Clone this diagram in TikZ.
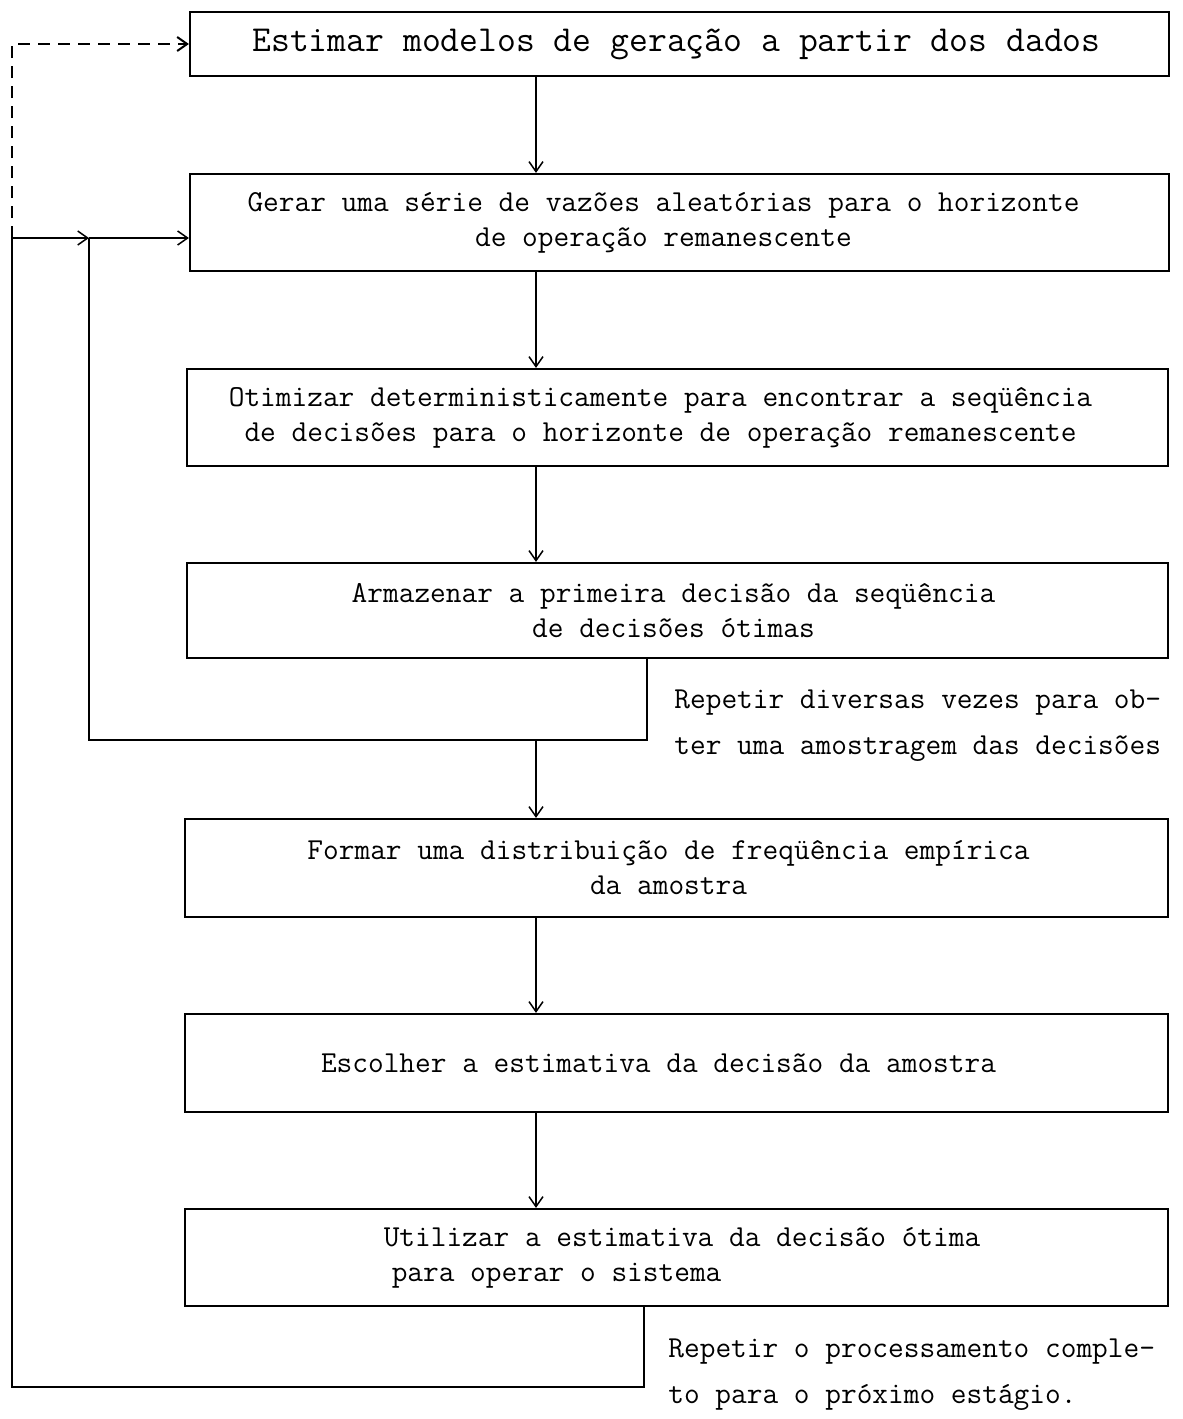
\documentclass[tikz,border=0pt]{standalone}
\usepackage{fontspec}
\usetikzlibrary{arrows.meta}
\begin{document}
\begin{tikzpicture}[x=0.5pt,y=-0.5pt,
  box/.style={draw, line width=1.1pt, rectangle, inner sep=0pt},
  txt/.style={font=\ttfamily\fontsize{15.24pt}{17.5pt}\selectfont, align=center, inner sep=0pt},
  bigtxt/.style={font=\ttfamily\fontsize{18.3pt}{21pt}\selectfont, align=center, inner sep=0pt},
  note/.style={font=\ttfamily\fontsize{15.24pt}{23pt}\selectfont, align=left, inner sep=0pt, anchor=north west},
  flow/.style={line width=0.75pt},
  arr/.style={flow, -{Straight Barb[length=5pt,width=7pt]}},
  dsh/.style={arr, line width=1pt, dash pattern=on 6pt off 4pt}]
\useasboundingbox (0,0) rectangle (1183,1419);

% process boxes
\node[box, minimum width=489.5pt, minimum height=32pt]   (b1) at (679.5,44)   {};
\node[box, minimum width=489.5pt, minimum height=48.5pt] (b2) at (679.5,222.5) {};
\node[box, minimum width=490.5pt, minimum height=48.5pt] (b3) at (677.5,417.5) {};
\node[box, minimum width=490.5pt, minimum height=47.5pt] (b4) at (677.5,610.5) {};
\node[box, minimum width=491.5pt, minimum height=49pt]   (b5) at (676.5,868)   {};
\node[box, minimum width=491.5pt, minimum height=49pt]   (b6) at (676.5,1063)  {};
\node[box, minimum width=491.5pt, minimum height=48.5pt] (b7) at (676.5,1257.5) {};

% box texts
\node[bigtxt, xshift=-1.5pt] (t1) at (b1.center) {Estimar modelos de geração a partir dos dados};
\node[txt, xshift=-8pt] (t2) at (b2.center) {Gerar uma série de vazões aleatórias para o horizonte\\de operação remanescente};
\node[txt, xshift=-8.5pt] (t3) at (b3.center) {Otimizar deterministicamente para encontrar a seqüência\\de decisões para o horizonte de operação remanescente};
\node[txt, xshift=-2pt] (t4) at (b4.center) {Armazenar a primeira decisão da seqüência\\de decisões ótimas};
\node[txt, xshift=-4pt] (t5) at (b5.center) {Formar uma distribuição de freqüência empírica\\da amostra};
\node[txt, xshift=-9pt] (t6) at (b6.center) {Escolher a estimativa da decisão da amostra};
\node[txt, align=left, xshift=2.75pt] (t7) at (b7.center) {Utilizar a estimativa da decisão ótima\\\hspace*{4pt}para operar o sistema};

% loop remarks
\node[note] (n1) at (674,689) {Repetir diversas vezes para ob-\\ter uma amostragem das decisões};
\node[note] (n2) at (668,1338) {Repetir o processamento comple-\\to para o próximo estágio.};

% routing points
\coordinate (cx) at (536,0);
\coordinate (r1) at (647,740);
\coordinate (r2) at (644,1387);
\coordinate (jo) at (12,238);
\coordinate (ji) at (89,238);

% main flow
\draw[arr] (b1.south -| cx) -- (b2.north -| cx);
\draw[arr] (b2.south -| cx) -- (b3.north -| cx);
\draw[arr] (b3.south -| cx) -- (b4.north -| cx);
\draw[arr] (r1 -| cx) -- (b5.north -| cx);
\draw[arr] (b5.south -| cx) -- (b6.north -| cx);
\draw[arr] (b6.south -| cx) -- (b7.north -| cx);

% inner loop (repeat sampling)
\draw[flow] (b4.south -| r1) -- (r1) -| (ji);
\draw[arr] (ji) -- (b2.west |- ji);

% outer loop (next stage)
\draw[flow] (b7.south -| r2) -- (r2) -| (jo);
\draw[arr] (jo) -- (ji);
\draw[dsh] (jo) |- (b1.west);
\end{tikzpicture}
\end{document}
